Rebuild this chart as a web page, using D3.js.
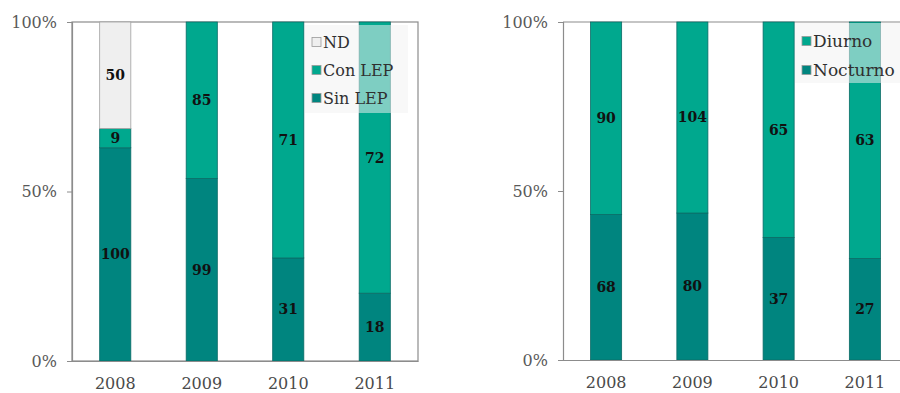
<!DOCTYPE html>
<html><head><meta charset="utf-8">
<script src="https://cdn.jsdelivr.net/npm/d3@7"></script>
<style>body{margin:0;background:#fff}svg{display:block}</style>
</head><body><svg id="c" width="900" height="393"></svg>
<script>
const years = ["2008","2009","2010","2011"];
const sinLEP = [100, 99, 31, 18];
const conLEP = [9, 85, 71, 72];
const nd = [50, 0, 0, 0];
const nocturno = [68, 80, 37, 27];
const diurno = [90, 104, 65, 63];
const yTicks = [0, 0.5, 1];
const yTickLabels = ["0%", "50%", "100%"];

const C_DARK = "#00857f", C_LIGHT = "#00a88e", C_ND = "#efefef";
const FONT = "DejaVu Serif";
const svg = d3.select("#c");

function chart(cfg) {
  const g = svg.append("g");
  const x = d3.scaleBand().domain(years).range([cfg.x0, cfg.x1]).paddingInner(0.64).paddingOuter(0.32);
  const y = d3.scaleLinear().domain([0, 1]).range([cfg.y1, cfg.y0]);
  const keys = cfg.series.map(s => s.name);
  const rows = years.map((yr, i) => {
    const r = {year: yr};
    cfg.series.forEach(s => r[s.name] = s.values[i]);
    return r;
  });
  const stacked = d3.stack().keys(keys).offset(d3.stackOffsetExpand)(rows);

  if (cfg.box) {
    g.append("rect").attr("x", cfg.x0).attr("y", cfg.y0).attr("width", cfg.x1 - cfg.x0).attr("height", cfg.y1 - cfg.y0)
      .attr("fill", "none").attr("stroke", "#8c8c8c").attr("stroke-width", 1.2);
  } else {
    g.append("line").attr("x1", cfg.x0).attr("x2", cfg.x1).attr("y1", cfg.y0).attr("y2", cfg.y0)
      .attr("stroke", "#8c8c8c").attr("stroke-width", 1.2);
  }

  stacked.forEach((layer, li) => {
    const s = cfg.series[li];
    g.selectAll(null).data(layer.filter(d => d[1] > d[0])).join("rect")
      .attr("x", d => x(d.data.year)).attr("width", x.bandwidth())
      .attr("y", d => y(d[1])).attr("height", d => y(d[0]) - y(d[1]))
      .attr("fill", s.color).attr("stroke", s.stroke).attr("stroke-width", 0.8);
  });
  stacked.forEach((layer, li) => {
    const s = cfg.series[li];
    g.selectAll(null).data(layer.filter(d => d[1] > d[0])).join("text")
      .attr("x", d => x(d.data.year) + x.bandwidth() / 2)
      .attr("y", d => (y(d[0]) + y(d[1])) / 2)
      .attr("dy", "0.35em").attr("text-anchor", "middle")
      .attr("font-family", FONT).attr("font-size", 14).attr("font-weight", "bold").attr("fill", "#111")
      .text(d => d.data[s.name]);
  });

  const ya = g.append("g").attr("transform", `translate(${cfg.x0},0)`)
    .call(d3.axisLeft(y).tickValues(yTicks).tickFormat((d, i) => yTickLabels[i]).tickSize(5).tickPadding(10));
  ya.select(".domain").attr("stroke", "#8c8c8c").attr("stroke-width", 1.2);
  ya.selectAll(".tick line").attr("stroke", "#8c8c8c");
  ya.selectAll("text").attr("font-family", FONT).attr("font-size", 16).attr("fill", "#595959");

  const xa = g.append("g").attr("transform", `translate(0,${cfg.y1})`)
    .call(d3.axisBottom(x).tickSize(0).tickPadding(17));
  xa.select(".domain").attr("stroke", "#8c8c8c").attr("stroke-width", 1.2);
  xa.selectAll("text").attr("font-family", FONT).attr("font-size", 16).attr("fill", "#4a4a4a");

  const L = cfg.legend;
  g.append("rect").attr("x", L.x).attr("y", L.y).attr("width", L.w).attr("height", L.h)
    .attr("fill", "#f2f2f2").attr("fill-opacity", 0.52);
  const items = cfg.series.slice().reverse();
  items.forEach((s, i) => {
    const cy = L.y + L.first + i * L.step;
    g.append("rect").attr("x", L.x + 7).attr("y", cy - 4.5).attr("width", 9).attr("height", 9)
      .attr("fill", s.color).attr("stroke", "#9a9a9a").attr("stroke-width", 0.8);
    g.append("text").attr("x", L.x + 18).attr("y", cy).attr("dy", "0.35em")
      .attr("font-family", FONT).attr("font-size", L.fs).attr("fill", "#303030").text(s.name);
  });
}

chart({
  x0: 72, x1: 418, y0: 22, y1: 361, box: true,
  series: [
    {name: "Sin LEP", values: sinLEP, color: C_DARK, stroke: "#0b6b66"},
    {name: "Con LEP", values: conLEP, color: C_LIGHT, stroke: "#0b6b66"},
    {name: "ND", values: nd, color: C_ND, stroke: "#a0a0a0"}
  ],
  legend: {x: 305, y: 25, w: 103, h: 88, first: 17, step: 28, fs: 16}
});

chart({
  x0: 563, x1: 908, y0: 22, y1: 360, box: false,
  series: [
    {name: "Nocturno", values: nocturno, color: C_DARK, stroke: "#0b6b66"},
    {name: "Diurno", values: diurno, color: C_LIGHT, stroke: "#0b6b66"}
  ],
  legend: {x: 795, y: 23, w: 110, h: 60, first: 18, step: 29, fs: 17}
});
</script></body></html>
